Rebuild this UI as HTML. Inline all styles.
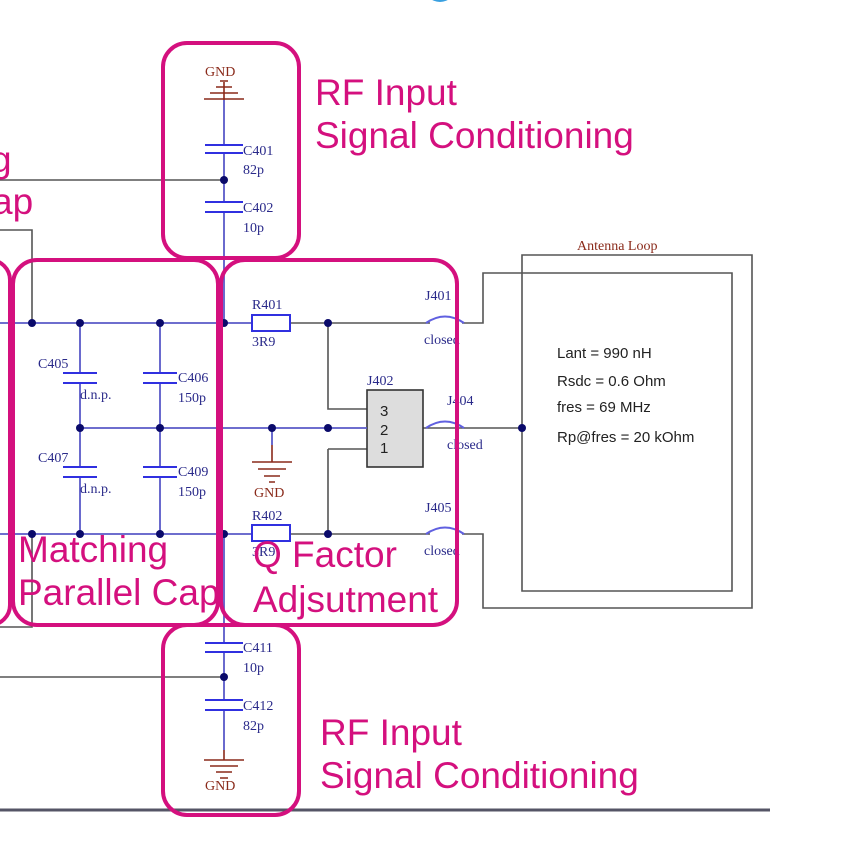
<!DOCTYPE html>
<html><head><meta charset="utf-8"><style>
html,body{margin:0;padding:0;background:#fff;width:865px;height:860px;overflow:hidden}
svg{display:block}
.s{font-family:"Liberation Serif",serif;font-size:14px;fill:#2a2a8a}
.p{font-family:"Liberation Sans",sans-serif;font-size:37px;fill:#d4107e}
.r{font-family:"Liberation Serif",serif;font-size:14px;fill:#8a2a1a}
</style></head><body>
<svg width="865" height="860" viewBox="0 0 865 860" xmlns="http://www.w3.org/2000/svg">
<circle cx="440" cy="-14" r="16" fill="#3aa0e0"/>
<g stroke="#555" stroke-width="1.6" fill="none">
<path d="M0 180H224"/>
<path d="M0 677H224"/>
<path d="M0 230H32V323"/>
<path d="M0 627H32V534"/>
<path d="M328 323V409H367M328 449H367M328 449V534"/>
<path d="M290 323H430M290 534H430"/>
<path d="M462 323H483V273H732V591H522V255H752V608H483V534H462"/>
<path d="M423 428H522"/>
<rect x="367" y="390" width="56" height="77" fill="#ddd" stroke="#333"/>
<path d="M0 810H770" stroke="#556" stroke-width="3"/>
</g>
<g stroke="#5a5ac8" stroke-width="1.8" fill="none">
<path d="M0 323H252M0 534H252M80 428H367"/>
<path d="M224 100V145M224 153V202M224 212V323M224 534V643M224 652V700M224 710V750"/>
<path d="M80 323V373M80 383V467M80 477V534M160 323V373M160 383V467M160 477V534"/>
<path d="M272 428V445"/>
</g>
<g stroke="#3030e0" stroke-width="2" fill="none">
<path d="M205 145H243M205 153H243M205 202H243M205 212H243M205 643H243M205 652H243M205 700H243M205 710H243"/>
<path d="M63 373H97M63 383H97M63 467H97M63 477H97M143 373H177M143 383H177M143 467H177M143 477H177"/>
<rect x="252" y="315" width="38" height="16" fill="#fff"/>
<rect x="252" y="525" width="38" height="16" fill="#fff"/>
<path d="M426 323Q445 310 464 323M426 428Q445 415 464 428M426 534Q445 521 464 534" stroke="#6060e0"/>
</g>
<g stroke="#8a2a1a" stroke-width="1.6" fill="none">
<path d="M224 100V82M204 99H244M210 93H238M216 87H232M220 81H228"/>
<path d="M224 750V760M204 760H244M210 766H238M216 772H232M220 778H228"/>
<path d="M272 445V462M252 462H292M258 469H286M264 476H280M269 482H275"/>
</g>
<text class="r" x="205" y="76">GND</text>
<text class="r" x="205" y="790">GND</text>
<text class="r" x="254" y="497">GND</text>
<text class="r" x="577" y="250">Antenna Loop</text>
<g fill="#0a0a6a">
<circle cx="224" cy="180" r="4"/><circle cx="224" cy="677" r="4"/>
<circle cx="32" cy="323" r="4"/><circle cx="80" cy="323" r="4"/><circle cx="160" cy="323" r="4"/><circle cx="224" cy="323" r="4"/><circle cx="328" cy="323" r="4"/>
<circle cx="80" cy="428" r="4"/><circle cx="160" cy="428" r="4"/><circle cx="272" cy="428" r="4"/><circle cx="328" cy="428" r="4"/><circle cx="522" cy="428" r="4"/>
<circle cx="32" cy="534" r="4"/><circle cx="80" cy="534" r="4"/><circle cx="160" cy="534" r="4"/><circle cx="224" cy="534" r="4"/><circle cx="328" cy="534" r="4"/>
</g>
<g class="s">
<text x="243" y="155">C401</text><text x="243" y="174">82p</text>
<text x="243" y="212">C402</text><text x="243" y="232">10p</text>
<text x="243" y="652">C411</text><text x="243" y="672">10p</text>
<text x="243" y="710">C412</text><text x="243" y="730">82p</text>
<text x="38" y="368">C405</text><text x="80" y="399">d.n.p.</text>
<text x="38" y="462">C407</text><text x="80" y="493">d.n.p.</text>
<text x="178" y="382">C406</text><text x="178" y="402">150p</text>
<text x="178" y="476">C409</text><text x="178" y="496">150p</text>
<text x="252" y="309">R401</text><text x="252" y="346">3R9</text>
<text x="252" y="520">R402</text><text x="252" y="556">3R9</text>
<text x="367" y="385">J402</text>
<text x="425" y="300">J401</text><text x="424" y="344">closed</text>
<text x="447" y="405">J404</text><text x="447" y="449">closed</text>
<text x="425" y="512">J405</text><text x="424" y="555">closed</text>
</g>
<g font-family="Liberation Sans,sans-serif" font-size="15" fill="#222">
<text x="380" y="416">3</text><text x="380" y="435">2</text><text x="380" y="453">1</text>
<text x="557" y="358">Lant = 990 nH</text>
<text x="557" y="386">Rsdc = 0.6 Ohm</text>
<text x="557" y="412">fres = 69 MHz</text>
<text x="557" y="442">Rp@fres = 20 kOhm</text>
</g>
<g stroke="#d4107e" stroke-width="4" fill="none">
<rect x="163" y="43" width="136" height="215" rx="24"/>
<rect x="163" y="625" width="136" height="190" rx="24"/>
<rect x="13" y="260" width="205" height="365" rx="24"/>
<rect x="221" y="260" width="236" height="365" rx="24"/>
<rect x="-60" y="260" width="70" height="365" rx="20"/>
</g>
<text class="p" x="315" y="105">RF Input</text>
<text class="p" x="315" y="148">Signal Conditioning</text>
<text class="p" x="320" y="745">RF Input</text>
<text class="p" x="320" y="788">Signal Conditioning</text>
<text class="p" x="-9" y="172">g</text>
<text class="p" x="-8" y="214">ap</text>
<text class="p" x="18" y="562">Matching</text>
<text class="p" x="18" y="605">Parallel Cap</text>
<text class="p" x="253" y="567">Q Factor</text>
<text class="p" x="253" y="612">Adjsutment</text>
</svg>
</body></html>
